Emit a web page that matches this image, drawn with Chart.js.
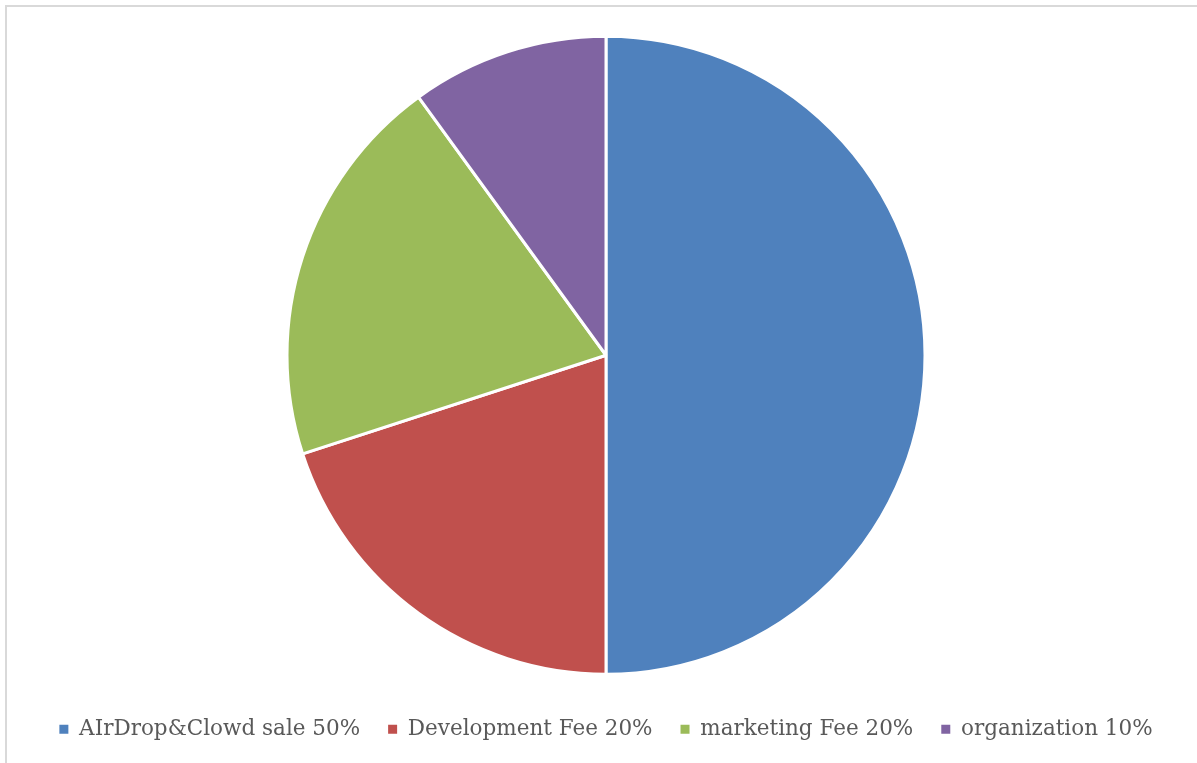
<!DOCTYPE html>
<html>
<head>
<meta charset="utf-8">
<script src="https://cdn.jsdelivr.net/npm/chart.js@4/dist/chart.umd.min.js"></script>
<style>
  html, body { margin: 0; padding: 0; background: #fff; }
  #wrap { position: relative; width: 1197px; height: 763px; overflow: hidden; }
  #frame { position: absolute; left: 5px; top: 5px; right: 0; bottom: 0; border-top: 2px solid #d9d9d9; border-left: 2px solid #d9d9d9; }
  #c { position: absolute; left: 0; top: 0; }
</style>
</head>
<body>
<div id="wrap">
  <div id="frame"></div>
  <canvas id="c" width="1197" height="763"></canvas>
</div>
<script>
const categories = ["AIrDrop&Clowd sale 50%", "Development Fee 20%", "marketing Fee 20%", "organization 10%"];
const values = [50, 20, 20, 10];
const colors = ["#4F81BD", "#C0504D", "#9BBB59", "#8064A2"];

new Chart(document.getElementById('c'), {
  type: 'pie',
  data: {
    labels: categories,
    datasets: [{
      data: values,
      backgroundColor: colors,
      borderColor: '#ffffff',
      borderWidth: 3,
      radius: 319
    }]
  },
  options: {
    responsive: false,
    animation: false,
    rotation: 0,
    layout: { padding: { left: 15, top: 20, right: 0, bottom: 13 } },
    plugins: {
      tooltip: { enabled: false },
      legend: {
        position: 'bottom',
        labels: {
          boxWidth: 9,
          boxHeight: 9,
          padding: 28,
          color: '#595959',
          font: { family: "'DejaVu Serif', serif", size: 21.5 },
          generateLabels(chart) {
            return categories.map((t, i) => ({
              text: t,
              fillStyle: colors[i],
              strokeStyle: colors[i],
              lineWidth: 0,
              fontColor: '#595959',
              hidden: false,
              index: i
            }));
          }
        }
      }
    }
  }
});
</script>
</body>
</html>
